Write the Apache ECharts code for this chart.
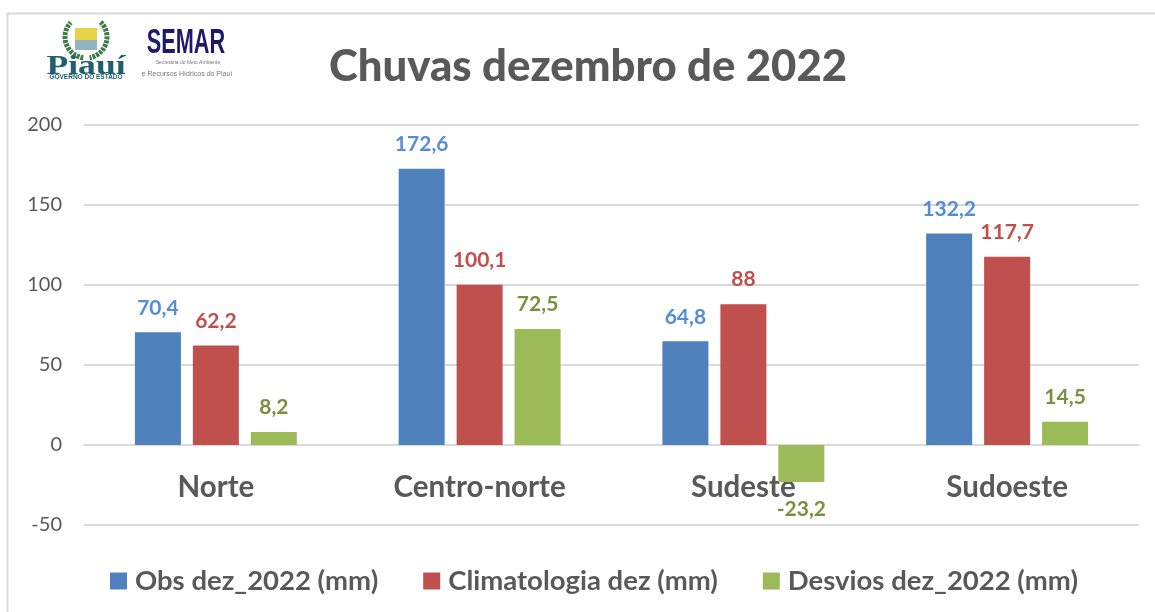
<!DOCTYPE html>
<html>
<head>
<meta charset="utf-8">
<style>
html,body{margin:0;padding:0;background:#fff;}
#grafico{width:1155px;height:612px;}
</style>
<script src="https://cdn.jsdelivr.net/npm/echarts@6/dist/echarts.min.js"></script>
</head>
<body>
<div id="grafico"></div>
<script>
var categorias = ['Norte', 'Centro-norte', 'Sudeste', 'Sudoeste'];
var obs = [70.4, 172.6, 64.8, 132.2];
var climatologia = [62.2, 100.1, 88, 117.7];
var desvios = [8.2, 72.5, -23.2, 14.5];
var nomes = ['Obs dez_2022 (mm)', 'Climatologia dez (mm)', 'Desvios dez_2022 (mm)'];

var fonte = 'Lato, "Open Sans", sans-serif';
var cinza = '#595959';

// rotulo com virgula decimal
function virgula(p){
	return String(p.value).replace('.', ',');
}
function serie(nome, dados, cor, corRotulo){
	var itens = [];
	for(var i=0;i<dados.length;i++){
		// valor negativo: rotulo fica mais longe da barra
		itens.push(dados[i]<0 ? {value: dados[i], label: {distance: 17}} : dados[i]);
	}
	return {
		name: nome,
		type: 'bar',
		data: itens,
		barWidth: 46,
		barGap: '26%',
		itemStyle: {color: cor},
		label: {
			show: true,
			position: 'outside',
			distance: 14,
			formatter: virgula,
			color: corRotulo,
			fontFamily: fonte,
			fontWeight: 'bold',
			fontSize: 21
		}
	};
}

var myChart = echarts.init(document.getElementById('grafico'));
myChart.setOption({
	animation: false,
	backgroundColor: '#fff',
	title: {
		text: 'Chuvas dezembro de 2022',
		left: 583,
		top: 40,
		textAlign: 'center',
		textStyle: {color: cinza, fontFamily: fonte, fontWeight: 900, fontSize: 43.7}
	},
	legend: {
		data: nomes,
		left: 105,
		top: 562,
		icon: 'rect',
		itemWidth: 17,
		itemHeight: 17,
		itemGap: 45,
		textStyle: {color: cinza, fontFamily: fonte, fontWeight: 'bold', fontSize: 27.5, padding: [0, 0, 0, 3]}
	},
	grid: {left: 84, right: 16, top: 125, bottom: 87},
	xAxis: {
		type: 'category',
		data: categorias,
		axisLine: {onZero: true, lineStyle: {color: '#d9d9d9', width: 2}},
		axisTick: {show: false},
		axisLabel: {color: cinza, fontFamily: fonte, fontWeight: 'bold', fontSize: 29.5, margin: -53}
	},
	yAxis: {
		type: 'value',
		min: -50,
		max: 200,
		interval: 50,
		axisLine: {show: false},
		axisTick: {show: false},
		splitLine: {lineStyle: {color: '#d9d9d9', width: 2}},
		axisLabel: {color: cinza, fontFamily: fonte, fontSize: 20, margin: 22}
	},
	series: [
		serie(nomes[0], obs, '#4f81bd', '#558ed5'),
		serie(nomes[1], climatologia, '#c0504d', '#c0504d'),
		serie(nomes[2], desvios, '#9bbb59', '#76923c')
	],
	graphic: [
		// moldura
		{type: 'rect', silent: true, z: -1, shape: {x: 7.5, y: 13.5, width: 1160, height: 620},
			style: {fill: 'none', stroke: '#d9d9d9', lineWidth: 2}},
		// logo Piaui
		{type: 'arc', shape: {cx: 86, cy: 37, r: 21, startAngle: 1.7, endAngle: 3.9}, style: {fill: 'none', stroke: '#3f7a4a', lineWidth: 5, lineDash: [3, 1]}},
		{type: 'arc', shape: {cx: 86, cy: 37, r: 21, startAngle: -0.8, endAngle: 1.4}, style: {fill: 'none', stroke: '#3f7a4a', lineWidth: 5, lineDash: [3, 1]}},
		{type: 'rect', shape: {x: 75, y: 28, width: 22, height: 12}, style: {fill: '#e8d24a'}},
		{type: 'rect', shape: {x: 75, y: 40, width: 22, height: 10}, style: {fill: '#8fb5bf'}},
		{type: 'text', x: 86, y: 67, scaleX: 1.32, style: {text: 'Piauí', x: 0, y: 0, align: 'center', verticalAlign: 'middle', fill: '#1f5f6e', font: 'bold 27px "Liberation Serif", serif'}},
		{type: 'text', style: {text: 'GOVERNO DO ESTADO', x: 86, y: 77.5, align: 'center', verticalAlign: 'middle', fill: '#1f5f6e', font: 'bold 6.5px "Liberation Sans", sans-serif'}},
		// logo SEMAR
		{type: 'text', x: 186, y: 43, scaleX: 0.62, style: {text: 'SEMAR', x: 0, y: 0, align: 'center', verticalAlign: 'middle', fill: '#1e1a6b', font: 'bold 35px "Liberation Sans", sans-serif'}},
		{type: 'text', style: {text: 'Secretaria do Meio Ambiente', x: 188, y: 63, align: 'center', verticalAlign: 'middle', fill: '#777', font: '5px "Liberation Sans", sans-serif'}},
		{type: 'text', style: {text: 'e Recursos Hídricos do Piauí', x: 187, y: 74, align: 'center', verticalAlign: 'middle', fill: '#777', font: '7px "Liberation Sans", sans-serif'}}
	]
});
</script>
</body>
</html>
